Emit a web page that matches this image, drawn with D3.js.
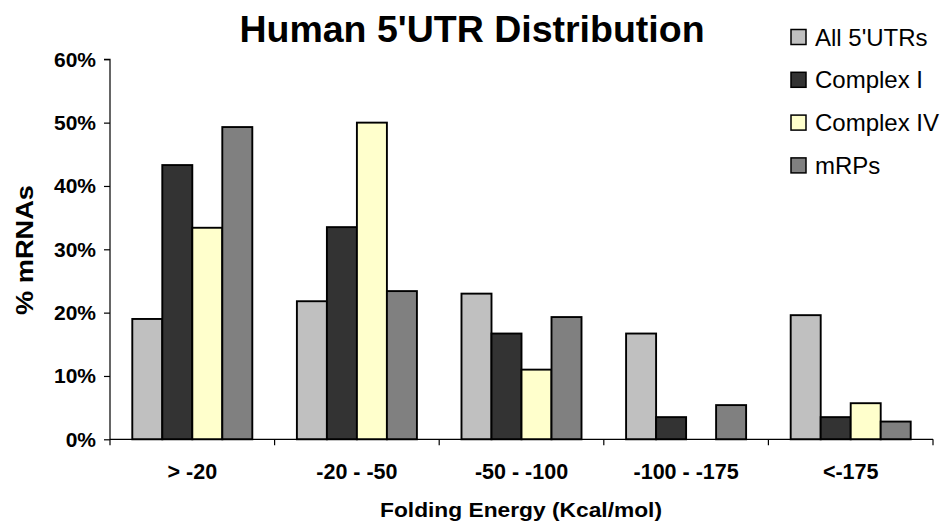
<!DOCTYPE html>
<html>
<head>
<meta charset="utf-8">
<script src="https://cdn.jsdelivr.net/npm/d3@7"></script>
<style>
  html, body { margin: 0; padding: 0; background: #fff; }
  svg { display: block; font-family: "Liberation Sans", Arial, sans-serif; }
</style>
</head>
<body>
<svg id="chart" width="950" height="525"></svg>
<script>
// Folding-energy bins and the share of mRNAs (%) in each, per gene set
const categories = ["> -20", "-20 - -50", "-50 - -100", "-100 - -175", "<-175"];
const seriesNames = ["All 5'UTRs", "Complex I", "Complex IV", "mRPs"];
const allUTRs   = [19.0, 21.8, 23.0, 16.7, 19.6];
const complexI  = [43.3, 33.5, 16.7, 3.5, 3.5];
const complexIV = [33.4, 50.0, 11.0, 0.0, 5.7];
const mRPs      = [49.3, 23.4, 19.3, 5.4, 2.8];
const yTicks = [0, 10, 20, 30, 40, 50, 60];

const seriesValues = [allUTRs, complexI, complexIV, mRPs];
const colors = ["#C0C0C0", "#333333", "#FFFFCC", "#808080"];

const svg = d3.select("#chart");
const plotLeft = 110, plotRight = 933, plotTop = 59.3, plotBottom = 439.3;

const x0 = d3.scaleBand().domain(categories).range([plotLeft, plotRight]).padding(0);
const x1 = d3.scaleBand().domain(seriesNames).range([0, x0.bandwidth()])
  .paddingInner(0).paddingOuter(0.743);
const y = d3.scaleLinear().domain([0, 60]).range([plotBottom, plotTop]);
const color = d3.scaleOrdinal().domain(seriesNames).range(colors);

// Title
svg.append("text")
  .attr("x", 472).attr("y", 41.5)
  .attr("text-anchor", "middle")
  .attr("font-weight", "bold").attr("font-size", 37.5)
  .text("Human 5'UTR Distribution");

// Bars
const groups = svg.append("g").selectAll("g")
  .data(categories)
  .join("g")
  .attr("transform", d => `translate(${x0(d)},0)`);

groups.selectAll("rect")
  .data((c, i) => seriesNames.map((s, j) => ({ s, v: seriesValues[j][i] })).filter(d => d.v > 0))
  .join("rect")
  .attr("x", d => x1(d.s))
  .attr("width", x1.bandwidth())
  .attr("y", d => y(d.v))
  .attr("height", d => y(0) - y(d.v))
  .attr("fill", d => color(d.s))
  .attr("stroke", "#000")
  .attr("stroke-width", 1.9);

// Y axis
const yAxis = svg.append("g")
  .attr("transform", `translate(${plotLeft},0)`)
  .call(d3.axisLeft(y).tickValues(yTicks).tickFormat(d => d + "%").tickSize(6).tickPadding(8));
yAxis.select(".domain").attr("stroke", "#000").attr("stroke-width", 1.2).attr("d", `M-6,${plotTop}H0V${plotBottom}`);
yAxis.selectAll(".tick line").attr("stroke", "#000").attr("stroke-width", 1.2);
yAxis.selectAll(".tick text")
  .attr("font-family", "Liberation Sans, Arial, sans-serif")
  .attr("font-size", 21).attr("font-weight", "bold").attr("fill", "#000");

// X axis: labels at band centres, tick marks at band boundaries
const xAxis = svg.append("g")
  .attr("transform", `translate(0,${plotBottom})`)
  .call(d3.axisBottom(x0).tickSize(0).tickPadding(24));
xAxis.select(".domain").attr("stroke", "#000").attr("stroke-width", 1.2).attr("d", `M${plotLeft},0H${plotRight}`);
xAxis.selectAll(".tick text")
  .attr("font-family", "Liberation Sans, Arial, sans-serif")
  .attr("font-size", 21.5).attr("font-weight", "bold").attr("fill", "#000");

const boundaries = categories.map(c => x0(c)).concat([x0.range()[1]]);
xAxis.selectAll("line.bound")
  .data(boundaries)
  .join("line")
  .attr("class", "bound")
  .attr("x1", d => d).attr("x2", d => d)
  .attr("y1", 0).attr("y2", 6)
  .attr("stroke", "#000").attr("stroke-width", 1.2);

// Axis titles
svg.append("text")
  .attr("x", 521).attr("y", 517)
  .attr("text-anchor", "middle")
  .attr("font-weight", "bold").attr("font-size", 20)
  .attr("textLength", 282).attr("lengthAdjust", "spacingAndGlyphs")
  .text("Folding Energy (Kcal/mol)");

svg.append("text")
  .attr("transform", "translate(33,250) rotate(-90)")
  .attr("text-anchor", "middle")
  .attr("font-weight", "bold").attr("font-size", 23)
  .attr("textLength", 130).attr("lengthAdjust", "spacingAndGlyphs")
  .text("% mRNAs");

// Legend
const legend = svg.append("g").attr("transform", "translate(791,0)");
const rows = legend.selectAll("g")
  .data(seriesNames)
  .join("g")
  .attr("transform", (d, i) => `translate(0,${37 + i * 42.8})`);
rows.append("rect")
  .attr("x", 0).attr("y", -7.5)
  .attr("width", 15).attr("height", 15)
  .attr("fill", d => color(d))
  .attr("stroke", "#000").attr("stroke-width", 1.5);
rows.append("text")
  .attr("x", 24).attr("y", 0)
  .attr("dy", "0.36em")
  .attr("font-size", 24)
  .text(d => d);
</script>
</body>
</html>
